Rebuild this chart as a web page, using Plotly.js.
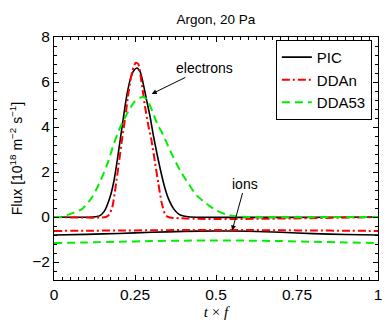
<!DOCTYPE html>
<html>
<head>
<meta charset="utf-8">
<script src="https://cdn.plot.ly/plotly-3.0.1.min.js"></script>
<style>
  html, body { margin: 0; padding: 0; background: #ffffff; }
  #flux_graph { width: 390px; height: 324px; }
</style>
</head>
<body>
<div id="flux_graph"></div>
<script>
// electron fluxes (t*f, 10^18 m^-2 s^-1)
let pic_e_t = [0, 0.12, 0.14, 0.155, 0.173, 0.185, 0.195, 0.208, 0.218, 0.226, 0.236, 0.246, 0.256, 0.266, 0.275, 0.285, 0.296, 0.307, 0.318, 0.33, 0.342, 0.355, 0.37, 0.385, 0.4, 0.42, 1];
let pic_e_v = [0, 0, 0.05, 0.25, 0.89, 1.6, 2.5, 3.8, 4.8, 5.5, 6.15, 6.5, 6.62, 6.45, 5.95, 5.25, 4.5, 3.6, 2.8, 2.0, 1.3, 0.75, 0.35, 0.13, 0.04, 0, 0];

let ddan_e_t = [0, 0.16, 0.17, 0.18, 0.19, 0.2, 0.211, 0.22, 0.231, 0.242, 0.252, 0.26, 0.27, 0.281, 0.292, 0.301, 0.312, 0.322, 0.332, 0.342, 0.352, 1];
let ddan_e_v = [0, 0, 0.1, 0.44, 1.33, 2.37, 3.56, 4.44, 5.63, 6.5, 6.85, 6.8, 6.0, 4.9, 4.0, 3.4, 2.4, 1.5, 0.65, 0.15, 0, 0];

let dda53_e_t = [0, 0.02, 0.053, 0.088, 0.118, 0.144, 0.165, 0.185, 0.2, 0.215, 0.231, 0.25, 0.265, 0.278, 0.29, 0.305, 0.32, 0.337, 0.358, 0.389, 0.415, 0.44, 0.47, 0.5, 0.53, 0.56, 0.6, 1];
let dda53_e_v = [0, 0, 0.15, 0.37, 0.89, 1.63, 2.37, 3.26, 3.85, 4.3, 4.74, 5.15, 5.3, 5.33, 5.15, 4.65, 4.1, 3.65, 2.96, 2.07, 1.48, 0.96, 0.6, 0.3, 0.12, 0.03, 0, 0];

// ion fluxes (negative)
let ion_t = [0, 0.1, 0.2, 0.3, 0.4, 0.5, 0.6, 0.7, 0.8, 0.9, 1];
let pic_i_v = [-0.8, -0.77, -0.73, -0.68, -0.64, -0.62, -0.63, -0.68, -0.74, -0.78, -0.8];
let ddan_i_v = [-0.62, -0.61, -0.6, -0.59, -0.58, -0.58, -0.58, -0.59, -0.6, -0.61, -0.62];
let dda53_i_v = [-1.16, -1.13, -1.1, -1.07, -1.05, -1.04, -1.05, -1.07, -1.1, -1.13, -1.16];

let x_tick_vals = [0, 0.25, 0.5, 0.75, 1];
let x_tick_text = ['0', '0.25', '0.5', '0.75', '1'];
let y_tick_vals = [-2, 0, 2, 4, 6, 8];

// line styles
let style_pic = {color: '#000000', width: 1.6, dash: 'solid', shape: 'spline', smoothing: 0.6};
let style_ddan = {color: '#ff0000', width: 2, dash: '8px,3px,2px,3px', shape: 'spline', smoothing: 0.6};
let style_dda53 = {color: '#00ee00', width: 2, dash: '8px,5px', shape: 'spline', smoothing: 0.6};

function makeTrace(name, x, y, style, show)
{
    return {
        type: 'scatter',
        mode: 'lines',
        name: name,
        legendgroup: name,
        showlegend: show,
        x: x,
        y: y,
        line: style,
        hoverinfo: 'skip'
    };
}

let traces = [
    makeTrace('PIC', pic_i_v.map((v, i) => ion_t[i]), pic_i_v, style_pic, false),
    makeTrace('DDAn', ion_t, ddan_i_v, style_ddan, false),
    makeTrace('DDA53', ion_t, dda53_i_v, style_dda53, false),
    makeTrace('PIC', pic_e_t, pic_e_v, style_pic, true),
    makeTrace('DDAn', ddan_e_t, ddan_e_v, style_ddan, true),
    makeTrace('DDA53', dda53_e_t, dda53_e_v, style_dda53, true)
];

let axis_common = {
    showgrid: false,
    zeroline: false,
    showline: true,
    linecolor: '#000000',
    linewidth: 1,
    mirror: 'ticks',
    ticks: 'inside',
    ticklen: 5,
    tickcolor: '#000000',
    tickwidth: 1,
    tickfont: {size: 15.5, color: '#000000'}
};

let layout = {
    width: 390,
    height: 324,
    margin: {l: 54, r: 12, t: 37, b: 44},
    paper_bgcolor: '#ffffff',
    plot_bgcolor: '#ffffff',
    font: {family: '"Liberation Sans", Arial, sans-serif', color: '#000000'},
    title: {
        text: 'Argon, 20 Pa',
        font: {size: 13.5},
        x: 0.5538, xanchor: 'center',
        y: 0.94, yanchor: 'middle'
    },
    xaxis: Object.assign({}, axis_common, {
        range: [0, 1],
        tickvals: x_tick_vals,
        ticktext: x_tick_text,
        minor: {dtick: 0.025, ticks: 'inside', ticklen: 3, tickcolor: '#000000', tickwidth: 1},
        title: {
            text: '<i>t</i> × <i>f</i>',
            font: {family: '"Liberation Serif", "Times New Roman", serif', size: 15},
            standoff: 4
        }
    }),
    yaxis: Object.assign({}, axis_common, {
        range: [-2.8, 8],
        tickvals: y_tick_vals,
        minor: {dtick: 0.4, ticks: 'inside', ticklen: 3, tickcolor: '#000000', tickwidth: 1},
        title: {
            text: 'Flux [10<sup>18</sup> m<sup>−2</sup> s<sup>−1</sup>]',
            font: {size: 14},
            standoff: 6
        }
    }),
    legend: {
        x: 0.981, xanchor: 'right',
        y: 0.988, yanchor: 'top',
        bgcolor: '#ffffff',
        bordercolor: '#000000',
        borderwidth: 1,
        font: {size: 15},
        tracegroupgap: 0,
        itemwidth: 30
    },
    annotations: [
        {
            x: 0.3015, y: 5.47, xref: 'x', yref: 'y',
            text: 'electrons', font: {size: 14},
            showarrow: true, ax: 53, ay: -26,
            arrowhead: 2, arrowsize: 1, arrowwidth: 1, arrowcolor: '#000000'
        },
        {
            x: 0.55, y: -0.6, xref: 'x', yref: 'y',
            text: 'ions', font: {size: 14},
            showarrow: true, ax: 13, ay: -47,
            arrowhead: 2, arrowsize: 1, arrowwidth: 1, arrowcolor: '#000000'
        }
    ],
    showlegend: true
};

Plotly.newPlot('flux_graph', traces, layout, {staticPlot: true, displayModeBar: false});
</script>
</body>
</html>
